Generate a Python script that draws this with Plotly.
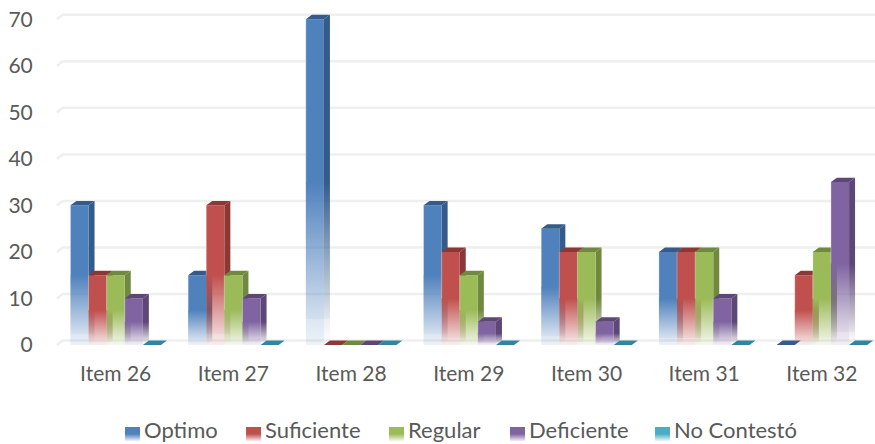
import plotly.graph_objects as go

W, H = 875, 444

items = ["Item 26", "Item 27", "Item 28", "Item 29", "Item 30", "Item 31", "Item 32"]
names = ["Optimo", "Suficiente", "Regular", "Deficiente", "No Contestó"]
optimo = [30, 15, 70, 30, 25, 20, 0]
suficiente = [15, 30, 0, 20, 20, 20, 15]
regular = [15, 15, 0, 15, 20, 20, 20]
deficiente = [10, 10, 0, 5, 5, 10, 35]
no_contesto = [0, 0, 0, 0, 0, 0, 0]
series = [optimo, suficiente, regular, deficiente, no_contesto]
y_ticks = [0, 10, 20, 30, 40, 50, 60, 70]

front_rgb = [(79, 129, 189), (192, 80, 77), (155, 187, 89), (128, 100, 162), (75, 172, 198)]
dark_rgb = [(53, 91, 138), (140, 56, 54), (113, 137, 63), (92, 71, 118), (49, 133, 156)]
legend_x = [125, 246, 389, 510, 655]

# Pixel layout of the plotting area and the oblique depth of each column
PX_PER_CAT = 117.7
PX_PER_UNIT = 4.655
X_LEFT, Y_TOP, Y_BOTTOM, Y_ZERO, X_ZERO = 55, 5, 354, 345, 115.7
BAR_W = 1 / 6.5
DX = 6 / PX_PER_CAT
DY = 4.4 / PX_PER_UNIT
GRID = "#efefef"
TEXT = "#595959"


def rgba(c, a):
    return f"rgba({c[0]},{c[1]},{c[2]},{a})"


def fade(c, start, stop, low=0.1):
    """Vertical fill: pale at the floor, a faint sheen step, solid from half height up."""
    return dict(type="vertical", start=start, stop=stop,
                colorscale=[[0, rgba(c, low)], [0.08, rgba(c, low + 0.1)],
                            [0.08, rgba(c, low + 0.15)], [0.5, rgba(c, 1)], [1, rgba(c, 1)]])


fig = go.Figure()


def poly(xs, ys, **kw):
    fig.add_trace(go.Scatter(x=xs, y=ys, mode="none", fill="toself", hoverinfo="skip",
                             showlegend=False, **kw))


x_min = -(X_ZERO - X_LEFT) / PX_PER_CAT
x_max = (W - X_ZERO) / PX_PER_CAT

# Floor-and-wall gridlines with the short oblique step at the left
for t in y_ticks:
    fig.add_trace(go.Scatter(x=[-0.5, -0.5 + DX, x_max], y=[t, t + DY, t + DY], mode="lines",
                             line=dict(color=GRID, width=2.5), hoverinfo="skip", showlegend=False))

# Columns: side, front and top face for each series, drawn left to right
for i in range(len(items)):
    for s, vals in enumerate(series):
        v = vals[i]
        x0 = i - 2.5 * BAR_W + s * BAR_W
        x1 = x0 + BAR_W
        if v > 0:
            poly([x1, x1 + DX, x1 + DX, x1, x1], [0, DY, v + DY, v, 0],
                 fillgradient=fade(dark_rgb[s], 0, v, 0.0))
            poly([x0, x1, x1, x0, x0], [0, 0, v, v, 0],
                 fillgradient=fade(front_rgb[s], 0, v))
            # Pale highlight along the left edge of the front face
            fig.add_trace(go.Scatter(x=[x0, x0], y=[v * 0.5, v], mode="lines",
                                     line=dict(color="rgba(255,255,255,0.3)", width=1),
                                     hoverinfo="skip", showlegend=False))
        poly([x0, x1, x1 + DX, x0 + DX, x0], [v, v, v + DY, v + DY, v],
             fillcolor=rgba(dark_rgb[s], 1))

# Legend swatches on a full-page axis pair, labels beside them
for s, name in enumerate(names):
    lx = legend_x[s]
    fig.add_trace(go.Scatter(x=[lx, lx + 15, lx + 15, lx, lx], y=[441, 441, 427, 427, 441],
                             xaxis="x2", yaxis="y2", mode="none", fill="toself", hoverinfo="skip",
                             showlegend=False,
                             fillgradient=dict(type="vertical", start=441, stop=427,
                                               colorscale=[[0, rgba(front_rgb[s], 0.1)],
                                                           [0.5, rgba(front_rgb[s], 1)],
                                                           [1, rgba(front_rgb[s], 1)]])))
    fig.add_annotation(x=(lx + 18) / W, y=0, xref="paper", yref="paper", text=name,
                       showarrow=False, xanchor="left", yanchor="bottom", borderpad=0,
                       font=dict(family="Lato", size=22, color=TEXT))

y_hi = (Y_ZERO - Y_TOP) / PX_PER_UNIT
y_lo = (Y_ZERO - Y_BOTTOM) / PX_PER_UNIT

fig.update_layout(
    width=W, height=H, margin=dict(l=0, r=0, t=0, b=0), autosize=False,
    paper_bgcolor="white", plot_bgcolor="rgba(0,0,0,0)", showlegend=False,
    font=dict(family="Lato", color=TEXT),
    xaxis=dict(domain=[X_LEFT / W, 1], range=[x_min, x_max], tickmode="array",
               tickvals=list(range(len(items))), ticktext=items, showgrid=False, zeroline=False,
               showline=False, ticks="outside", ticklen=1, tickcolor="rgba(0,0,0,0)",
               tickfont=dict(size=21, color=TEXT), automargin=False),
    yaxis=dict(domain=[1 - Y_BOTTOM / H, 1 - Y_TOP / H], range=[y_lo, y_hi], tickmode="array",
               tickvals=y_ticks, showgrid=False, zeroline=False, showline=False, ticks="outside",
               ticklen=17, tickcolor="rgba(0,0,0,0)", tickfont=dict(size=21, color=TEXT),
               automargin=False),
    xaxis2=dict(domain=[0, 1], range=[0, W], visible=False, anchor="y2", fixedrange=True),
    yaxis2=dict(domain=[0, 1], range=[H, 0], visible=False, anchor="x2", fixedrange=True),
)

fig.write_html("out.html")
